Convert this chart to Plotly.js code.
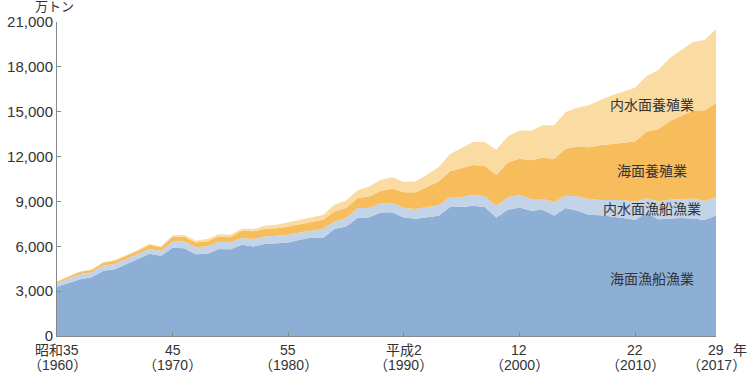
<!DOCTYPE html>
<html>
<head>
<meta charset="utf-8">
<script src="https://cdn.plot.ly/plotly-3.0.1.min.js"></script>
<style>html,body{margin:0;padding:0;background:#fff;}#chart{width:750px;height:373px;}</style>
</head>
<body>
<div id="chart"></div>
<script>
const years = [1960,1961,1962,1963,1964,1965,1966,1967,1968,1969,1970,1971,1972,1973,1974,1975,1976,1977,1978,1979,1980,1981,1982,1983,1984,1985,1986,1987,1988,1989,1990,1991,1992,1993,1994,1995,1996,1997,1998,1999,2000,2001,2002,2003,2004,2005,2006,2007,2008,2009,2010,2011,2012,2013,2014,2015,2016,2017];
// 海面漁船漁業 (万トン)
const marineCapture = [3300,3550,3800,3930,4360,4470,4830,5160,5500,5360,5900,5870,5470,5500,5820,5800,6100,5990,6170,6210,6250,6430,6590,6550,7150,7330,7890,7950,8260,8280,7930,7840,7950,8040,8630,8630,8710,8630,7930,8450,8600,8380,8450,8060,8560,8380,8110,8080,8000,7890,7770,8220,7800,7860,7890,7850,7760,8060];
// 内水面漁船漁業
const inlandCapture = [230,290,350,340,350,350,320,320,320,340,420,450,470,480,480,470,450,490,490,490,520,490,470,600,510,550,670,610,610,620,630,660,670,690,670,670,740,710,770,820,840,780,710,900,820,960,1050,1020,1100,1210,1210,1000,1210,1260,1260,1340,1270,1240];
// 海面養殖業
const marineAqua = [90,140,140,150,190,210,200,220,280,230,320,320,310,350,360,330,510,520,510,510,560,560,600,620,670,680,670,790,850,950,1050,1110,1350,1610,1710,1940,1980,2040,2080,2330,2420,2600,2780,2890,3140,3330,3460,3650,3710,3820,4020,4460,4810,5260,5560,5890,6060,6260];
// 内水面養殖業
const inlandAqua = [40,40,40,40,50,50,50,60,60,60,100,110,120,150,140,170,110,150,200,230,270,290,290,330,450,510,510,650,720,760,690,730,820,940,1170,1340,1540,1600,1670,1760,1880,1970,2150,2250,2460,2600,2820,3030,3290,3440,3610,3710,3970,4210,4430,4580,4710,4960];

const seriesNames = ['海面漁船漁業','内水面漁船漁業','海面養殖業','内水面養殖業'];
const tickYears = [1960,1970,1980,1990,2000,2010,2017];
const tickEra = ['昭和35','45','55','平成2','12','22','29'];
const tickWestern = ['（1960）','（1970）','（1980）','（1990）','（2000）','（2010）','（2017）'];
const yTicks = [0,3000,6000,9000,12000,15000,18000,21000];
const yTickLabels = ['0','3,000','6,000','9,000','12,000','15,000','18,000','21,000'];

const colors = ['#8EAFD5','#C3D4E9','#F7BD5C','#FADBA2'];
const data = [marineCapture, inlandCapture, marineAqua, inlandAqua].map((v,i)=>({
  type:'scatter', mode:'lines', x:years, y:v, name:seriesNames[i],
  stackgroup:'one', line:{width:0, color:colors[i]}, fillcolor:colors[i], hoverinfo:'skip'
}));

const FONT = 'Liberation Sans, Noto Sans CJK JP, sans-serif';
const TXT = '#333';
const annotations = [
  {xref:'paper', yref:'paper', x:0, y:1, xanchor:'right', yanchor:'bottom', yshift:6, xshift:19, text:'万トン', showarrow:false, font:{family:FONT,size:13,color:TXT}},
  {xref:'paper', yref:'paper', x:1, y:0, xanchor:'left', yanchor:'middle', xshift:15, yshift:-14, text:'年', showarrow:false, font:{family:FONT,size:14,color:TXT}},
  {xref:'x', yref:'y', x:2011.5, y:15420, text:'内水面養殖業', showarrow:false, font:{family:FONT,size:14,color:TXT}},
  {xref:'x', yref:'y', x:2011.5, y:11030, text:'海面養殖業', showarrow:false, font:{family:FONT,size:14,color:TXT}},
  {xref:'x', yref:'y', x:2011.5, y:8480, text:'内水面漁船漁業', showarrow:false, font:{family:FONT,size:14,color:TXT}},
  {xref:'x', yref:'y', x:2011.5, y:3780, text:'海面漁船漁業', showarrow:false, font:{family:FONT,size:14,color:TXT}}
];
tickYears.forEach((yr,i)=>{
  annotations.push({xref:'x', yref:'paper', x:yr, y:0, xanchor:'center', yanchor:'middle', yshift:-14, borderpad:0, text:tickEra[i], showarrow:false, font:{family:FONT,size:14,color:TXT}});
  annotations.push({xref:'x', yref:'paper', x:yr, y:0, xanchor:'center', yanchor:'middle', yshift:-28.5, borderpad:0, text:tickWestern[i], showarrow:false, font:{family:FONT,size:14,color:TXT}});
});

const layout = {
  width:750, height:373,
  margin:{l:57, r:34, t:22, b:37},
  showlegend:false,
  paper_bgcolor:'#fff', plot_bgcolor:'#fff',
  font:{family:FONT, size:14, color:TXT},
  xaxis:{range:[1960,2017], tickmode:'array', tickvals:tickYears, showticklabels:false,
    ticks:'inside', ticklen:4, tickcolor:'#888', showline:true, linecolor:'#888', linewidth:1,
    showgrid:false, zeroline:false, fixedrange:true},
  yaxis:{range:[0,21000], tickmode:'array', tickvals:yTicks, ticktext:yTickLabels,
    ticks:'inside', ticklen:4, tickcolor:'#888', showline:true, linecolor:'#888', linewidth:1,
    showgrid:false, zeroline:false, tickfont:{family:FONT,size:15,color:TXT}, fixedrange:true},
  annotations:annotations
};
Plotly.newPlot('chart', data, layout, {staticPlot:true, displayModeBar:false});
</script>
</body>
</html>
